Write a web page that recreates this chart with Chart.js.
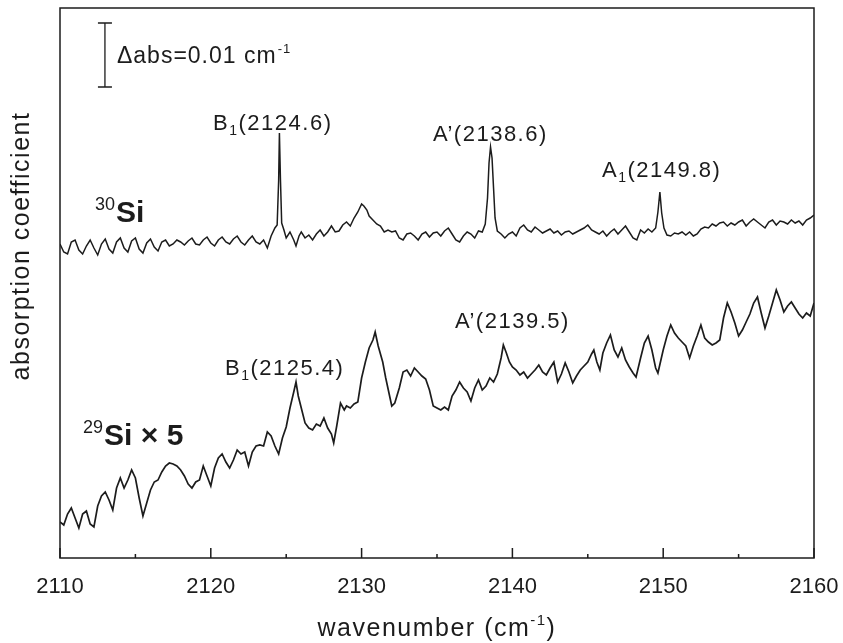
<!DOCTYPE html>
<html>
<head>
<meta charset="utf-8">
<script src="https://cdn.jsdelivr.net/npm/chart.js@4.4.1/dist/chart.umd.min.js"></script>
<style>
  html, body { margin: 0; padding: 0; background: #fff; }
</style>
</head>
<body>
<canvas id="spectrum" width="843" height="643"></canvas>
<script>
// ---------------------------------------------------------------
// Data (y in arbitrary absorption units)
// ---------------------------------------------------------------
const upperWn = [
  2110.00, 2110.25, 2110.50, 2110.75, 2111.00, 2111.25, 2111.50, 2111.75,
  2112.00, 2112.25, 2112.50, 2112.75, 2113.00, 2113.25, 2113.50, 2113.75,
  2114.00, 2114.25, 2114.50, 2114.75, 2115.00, 2115.25, 2115.50, 2115.75,
  2116.00, 2116.25, 2116.50, 2116.75, 2117.00, 2117.25, 2117.50, 2117.75,
  2118.00, 2118.25, 2118.50, 2118.75, 2119.00, 2119.25, 2119.50, 2119.75,
  2120.00, 2120.25, 2120.50, 2120.75, 2121.00, 2121.25, 2121.50, 2121.75,
  2122.00, 2122.25, 2122.50, 2122.75, 2123.00, 2123.25, 2123.50, 2123.75,
  2124.00, 2124.25, 2124.40, 2124.50, 2124.55, 2124.62, 2124.70, 2124.85,
  2125.00, 2125.25, 2125.50, 2125.65, 2125.85, 2126.00, 2126.25, 2126.50,
  2126.75, 2127.00, 2127.25, 2127.50, 2127.75, 2128.00, 2128.25, 2128.50,
  2128.75, 2129.00, 2129.25, 2129.50, 2129.75, 2130.00, 2130.15, 2130.35,
  2130.50, 2130.75, 2131.00, 2131.25, 2131.50, 2131.75, 2132.00, 2132.25,
  2132.50, 2132.75, 2133.00, 2133.25, 2133.50, 2133.75, 2134.00, 2134.25,
  2134.50, 2134.75, 2135.00, 2135.25, 2135.50, 2135.75, 2136.00, 2136.25,
  2136.50, 2136.75, 2137.00, 2137.25, 2137.50, 2137.75, 2138.00, 2138.20,
  2138.35, 2138.45, 2138.55, 2138.65, 2138.75, 2138.85, 2139.00, 2139.25,
  2139.50, 2139.75, 2140.00, 2140.25, 2140.50, 2140.75, 2141.00, 2141.25,
  2141.50, 2141.75, 2142.00, 2142.25, 2142.50, 2142.75, 2143.00, 2143.25,
  2143.50, 2143.75, 2144.00, 2144.25, 2144.50, 2144.75, 2145.00, 2145.25,
  2145.50, 2145.75, 2146.00, 2146.25, 2146.50, 2146.75, 2147.00, 2147.25,
  2147.50, 2147.75, 2148.00, 2148.25, 2148.50, 2148.75, 2149.00, 2149.25,
  2149.50, 2149.65, 2149.78, 2149.90, 2150.05, 2150.25, 2150.50, 2150.75,
  2151.00, 2151.25, 2151.50, 2151.75, 2152.00, 2152.25, 2152.50, 2152.75,
  2153.00, 2153.25, 2153.50, 2153.75, 2154.00, 2154.25, 2154.50, 2154.75,
  2155.00, 2155.25, 2155.50, 2155.75, 2156.00, 2156.25, 2156.50, 2156.75,
  2157.00, 2157.25, 2157.50, 2157.75, 2158.00, 2158.25, 2158.50, 2158.75,
  2159.00, 2159.25, 2159.50, 2159.75, 2160.00
];
const upperAbs = [
  314, 306, 304, 316, 318, 308, 304, 312,
  318, 310, 303, 314, 319, 309, 305, 316,
  320, 310, 306, 317, 320, 309, 305, 315,
  319, 311, 307, 316, 318, 312, 314, 318,
  316, 313, 317, 320, 314, 313, 318, 321,
  315, 312, 318, 321, 316, 314, 319, 322,
  316, 313, 318, 322, 316, 314, 318, 310,
  322, 330, 333, 378, 425, 378, 335, 328,
  320, 326, 318, 312, 322, 326, 320, 323,
  318, 324, 328, 322, 326, 332, 326, 327,
  333, 336, 332, 340, 346, 354, 352, 348,
  342, 338, 334, 332, 326, 328, 326, 327,
  320, 318, 324, 325, 322, 318, 324, 326,
  321, 325, 326, 322, 327, 330, 324, 318,
  316, 322, 326, 324, 320, 327, 326, 334,
  360, 395, 411, 400, 370, 340, 327, 324,
  320, 324, 326, 322, 330, 333, 328, 326,
  331, 328, 325, 327, 329, 325, 327, 323,
  326, 327, 324, 326, 328, 330, 333, 328,
  326, 324, 327, 322, 326, 329, 324, 328,
  332, 326, 320, 318, 328, 325, 329, 326,
  330, 346, 366, 345, 330, 323, 322, 325,
  324, 326, 323, 326, 322, 324, 329, 331,
  330, 334, 332, 335, 336, 332, 335, 333,
  336, 338, 332, 336, 339, 336, 333, 330,
  336, 338, 333, 337, 336, 334, 338, 335,
  337, 333, 338, 340, 343
];

const lowerWn = [
  2110.00, 2110.25, 2110.50, 2110.75, 2111.00, 2111.25, 2111.50, 2111.75,
  2112.00, 2112.25, 2112.50, 2112.75, 2113.00, 2113.25, 2113.50, 2113.75,
  2114.00, 2114.25, 2114.50, 2114.75, 2115.00, 2115.25, 2115.50, 2115.75,
  2116.00, 2116.25, 2116.50, 2116.75, 2117.00, 2117.25, 2117.50, 2117.75,
  2118.00, 2118.25, 2118.50, 2118.75, 2119.00, 2119.25, 2119.50, 2119.75,
  2120.00, 2120.25, 2120.50, 2120.75, 2121.00, 2121.25, 2121.50, 2121.75,
  2122.00, 2122.25, 2122.50, 2122.75, 2123.00, 2123.25, 2123.50, 2123.75,
  2124.00, 2124.25, 2124.50, 2124.75, 2125.00, 2125.25, 2125.50, 2125.65,
  2125.80, 2126.00, 2126.25, 2126.50, 2126.75, 2127.00, 2127.25, 2127.50,
  2127.75, 2128.00, 2128.15, 2128.35, 2128.60, 2128.85, 2129.00, 2129.25,
  2129.50, 2129.75, 2130.00, 2130.25, 2130.50, 2130.75, 2130.90, 2131.10,
  2131.40, 2131.60, 2131.80, 2132.00, 2132.20, 2132.50, 2132.75, 2133.00,
  2133.25, 2133.50, 2133.75, 2134.00, 2134.25, 2134.50, 2134.75, 2135.00,
  2135.25, 2135.50, 2135.75, 2136.00, 2136.25, 2136.50, 2136.75, 2137.00,
  2137.25, 2137.50, 2137.75, 2138.00, 2138.25, 2138.50, 2138.75, 2139.00,
  2139.25, 2139.40, 2139.60, 2139.80, 2140.00, 2140.25, 2140.50, 2140.75,
  2141.00, 2141.25, 2141.50, 2141.75, 2142.00, 2142.25, 2142.50, 2142.75,
  2143.00, 2143.25, 2143.50, 2143.75, 2144.00, 2144.25, 2144.50, 2144.75,
  2145.00, 2145.25, 2145.40, 2145.60, 2145.80, 2146.00, 2146.25, 2146.50,
  2146.75, 2147.00, 2147.25, 2147.50, 2147.75, 2148.00, 2148.20, 2148.50,
  2148.75, 2149.00, 2149.25, 2149.50, 2149.65, 2150.00, 2150.25, 2150.50,
  2150.75, 2151.00, 2151.25, 2151.50, 2151.75, 2152.00, 2152.25, 2152.50,
  2152.75, 2153.00, 2153.25, 2153.50, 2153.75, 2154.00, 2154.25, 2154.50,
  2154.75, 2155.00, 2155.25, 2155.50, 2155.75, 2156.00, 2156.25, 2156.50,
  2156.75, 2157.00, 2157.25, 2157.50, 2157.75, 2158.00, 2158.25, 2158.50,
  2158.75, 2159.00, 2159.25, 2159.50, 2159.75, 2160.00
];
const lowerAbs = [
  36, 33, 44, 50, 40, 30, 44, 47,
  34, 31, 52, 62, 66, 58, 48, 70,
  80, 70, 78, 88, 80, 60, 42, 55,
  68, 76, 78, 86, 92, 95, 94, 92,
  88, 82, 74, 70, 76, 78, 92, 82,
  72, 90, 100, 104, 96, 90, 98, 108,
  104, 106, 92, 106, 112, 113, 112, 126,
  122, 112, 104, 120, 131, 150, 166, 176,
  162, 150, 135, 130, 128, 134, 132, 140,
  130, 124, 115, 132, 155, 148, 152, 150,
  154, 156, 180, 196, 210, 218, 226, 212,
  196, 180, 166, 152, 155, 170, 186, 188,
  182, 190, 186, 182, 179, 168, 152, 150,
  148, 151, 148, 162, 168, 176, 170, 166,
  157, 170, 178, 168, 172, 180, 176, 184,
  200, 213, 205, 196, 191, 188, 183, 186,
  180, 184, 188, 193, 186, 183, 190, 196,
  176, 184, 195, 186, 175, 182, 188, 192,
  196, 204, 208, 196, 188, 205, 215, 223,
  208, 201, 210, 198, 191, 185, 181, 200,
  215, 222, 208, 190, 185, 208, 222, 233,
  225, 220, 216, 212, 200, 212, 222, 233,
  220, 216, 213, 215, 218, 240, 255, 246,
  235, 222, 228, 236, 244, 255, 261, 245,
  230, 242, 255, 268, 258, 246, 252, 256,
  250, 244, 240, 245, 242, 255
];

// axis ticks
const majorTicks = [2110, 2120, 2130, 2140, 2150, 2160];
const minorTicks = [2115, 2125, 2135, 2145, 2155];

// peak assignments: main letter, subscript, rest, anchor (wn, abs)
const peakLabels = [
  { main: "B", sub: "1", rest: "(2124.6)", wn: 2120.15, abs: 428 },
  { main: "A’", sub: "", rest: "(2138.6)", wn: 2134.73, abs: 417 },
  { main: "A", sub: "1", rest: "(2149.8)", wn: 2145.94, abs: 381 },
  { main: "B", sub: "1", rest: "(2125.4)", wn: 2120.94, abs: 183 },
  { main: "A’", sub: "", rest: "(2139.5)", wn: 2136.19, abs: 230 },
];

// sample names
const sampleLabels = [
  { iso: "30", name: "Si", extra: "", wn: 2112.32, abs: 336 },
  { iso: "29", name: "Si", extra: " × 5", wn: 2111.53, abs: 113 },
];

// scale bar: 0.01 cm^-1 in figure units
const scaleBar = { wn: 2112.98, from: 471, to: 535 };

const INK = "#1c1c1c";
const FONT = "'Liberation Sans', Arial, sans-serif";

// ---------------------------------------------------------------
// Overlay: frame, inward ticks, labels, scale bar, axis titles
// ---------------------------------------------------------------
const overlay = {
  id: "overlay",
  afterDraw(chart) {
    const { ctx, chartArea: a, scales: { x, y } } = chart;
    ctx.save();
    ctx.strokeStyle = INK;
    ctx.fillStyle = INK;
    ctx.lineWidth = 1.5;
    ctx.strokeRect(a.left, a.top, a.right - a.left, a.bottom - a.top);

    ctx.beginPath();
    majorTicks.forEach((v) => {
      const px = x.getPixelForValue(v);
      ctx.moveTo(px, a.bottom);
      ctx.lineTo(px, a.bottom - 10);
    });
    minorTicks.forEach((v) => {
      const px = x.getPixelForValue(v);
      ctx.moveTo(px, a.bottom);
      ctx.lineTo(px, a.bottom - 4);
    });
    ctx.stroke();

    // scale bar
    const bx = x.getPixelForValue(scaleBar.wn);
    const b0 = y.getPixelForValue(scaleBar.from);
    const b1 = y.getPixelForValue(scaleBar.to);
    ctx.lineWidth = 1.3;
    ctx.beginPath();
    ctx.moveTo(bx, b0); ctx.lineTo(bx, b1);
    ctx.moveTo(bx - 7, b0); ctx.lineTo(bx + 7, b0);
    ctx.moveTo(bx - 7, b1); ctx.lineTo(bx + 7, b1);
    ctx.stroke();

    ctx.textBaseline = "alphabetic";
    ctx.textAlign = "left";
    ctx.letterSpacing = "1px";
    let tx = bx + 12;
    const ty = (b0 + b1) / 2 + 8;
    ctx.font = "23px " + FONT;
    ctx.fillText("Δabs=0.01 cm", tx, ty);
    tx += ctx.measureText("Δabs=0.01 cm").width + 1;
    ctx.font = "13px " + FONT;
    ctx.fillText("-1", tx, ty - 10);

    // peak labels
    ctx.letterSpacing = "1.5px";
    peakLabels.forEach((l) => {
      let px = x.getPixelForValue(l.wn);
      const py = y.getPixelForValue(l.abs);
      ctx.font = "22px " + FONT;
      ctx.fillText(l.main, px, py);
      px += ctx.measureText(l.main).width;
      if (l.sub) {
        ctx.font = "14px " + FONT;
        ctx.fillText(l.sub, px, py + 5);
        px += ctx.measureText(l.sub).width;
      }
      ctx.font = "22px " + FONT;
      ctx.fillText(l.rest, px, py);
    });
    ctx.letterSpacing = "0px";

    // sample names
    sampleLabels.forEach((s) => {
      let px = x.getPixelForValue(s.wn);
      const py = y.getPixelForValue(s.abs);
      ctx.font = "18px " + FONT;
      ctx.fillText(s.iso, px, py - 12);
      px += ctx.measureText(s.iso).width + 1;
      ctx.font = "bold 30px " + FONT;
      ctx.fillText(s.name + s.extra, px, py);
    });

    // x axis title, centred under the plot
    ctx.letterSpacing = "1.5px";
    ctx.font = "25px " + FONT;
    const main = "wavenumber (cm";
    const wMain = ctx.measureText(main).width;
    ctx.font = "15px " + FONT;
    const wSup = ctx.measureText("-1").width;
    ctx.font = "25px " + FONT;
    const wEnd = ctx.measureText(")").width;
    let xt = (a.left + a.right) / 2 - (wMain + wSup + wEnd) / 2;
    const yt = 636;
    ctx.fillText(main, xt, yt);
    xt += wMain;
    ctx.font = "15px " + FONT;
    ctx.fillText("-1", xt, yt - 11);
    xt += wSup;
    ctx.font = "25px " + FONT;
    ctx.fillText(")", xt, yt);

    // y axis title
    ctx.translate(22, 246);
    ctx.rotate(-Math.PI / 2);
    ctx.textAlign = "center";
    ctx.textBaseline = "middle";
    ctx.font = "25px " + FONT;
    ctx.fillText("absorption coefficient", 0, 0);
    ctx.restore();
  },
};

// ---------------------------------------------------------------
// Chart
// ---------------------------------------------------------------
const toPoints = (xs, ys) => xs.map((v, i) => ({ x: v, y: ys[i] }));

new Chart(document.getElementById("spectrum"), {
  type: "line",
  data: {
    datasets: [
      {
        label: "30Si",
        data: toPoints(upperWn, upperAbs),
        borderColor: INK,
        borderWidth: 1.5,
        pointRadius: 0,
        tension: 0,
      },
      {
        label: "29Si x5",
        data: toPoints(lowerWn, lowerAbs),
        borderColor: INK,
        borderWidth: 1.7,
        pointRadius: 0,
        tension: 0,
      },
    ],
  },
  options: {
    responsive: false,
    animation: false,
    layout: { padding: { left: 60, right: 29, top: 8, bottom: 0 } },
    plugins: { legend: { display: false }, tooltip: { enabled: false } },
    scales: {
      x: {
        type: "linear",
        min: 2110,
        max: 2160,
        // fixed axis band; the layout padding already leaves room for end labels
        afterFit: (s) => { s.height = 85; s.paddingLeft = 0; s.paddingRight = 0; },
        grid: { display: false, drawTicks: false },
        border: { display: false },
        ticks: {
          stepSize: 10,
          padding: 16,
          maxRotation: 0,
          color: INK,
          font: { family: FONT, size: 22 },
          callback: (v) => String(v),
        },
      },
      y: {
        display: false,
        min: 0,
        max: 550,
      },
    },
  },
  plugins: [overlay],
});
</script>
</body>
</html>
